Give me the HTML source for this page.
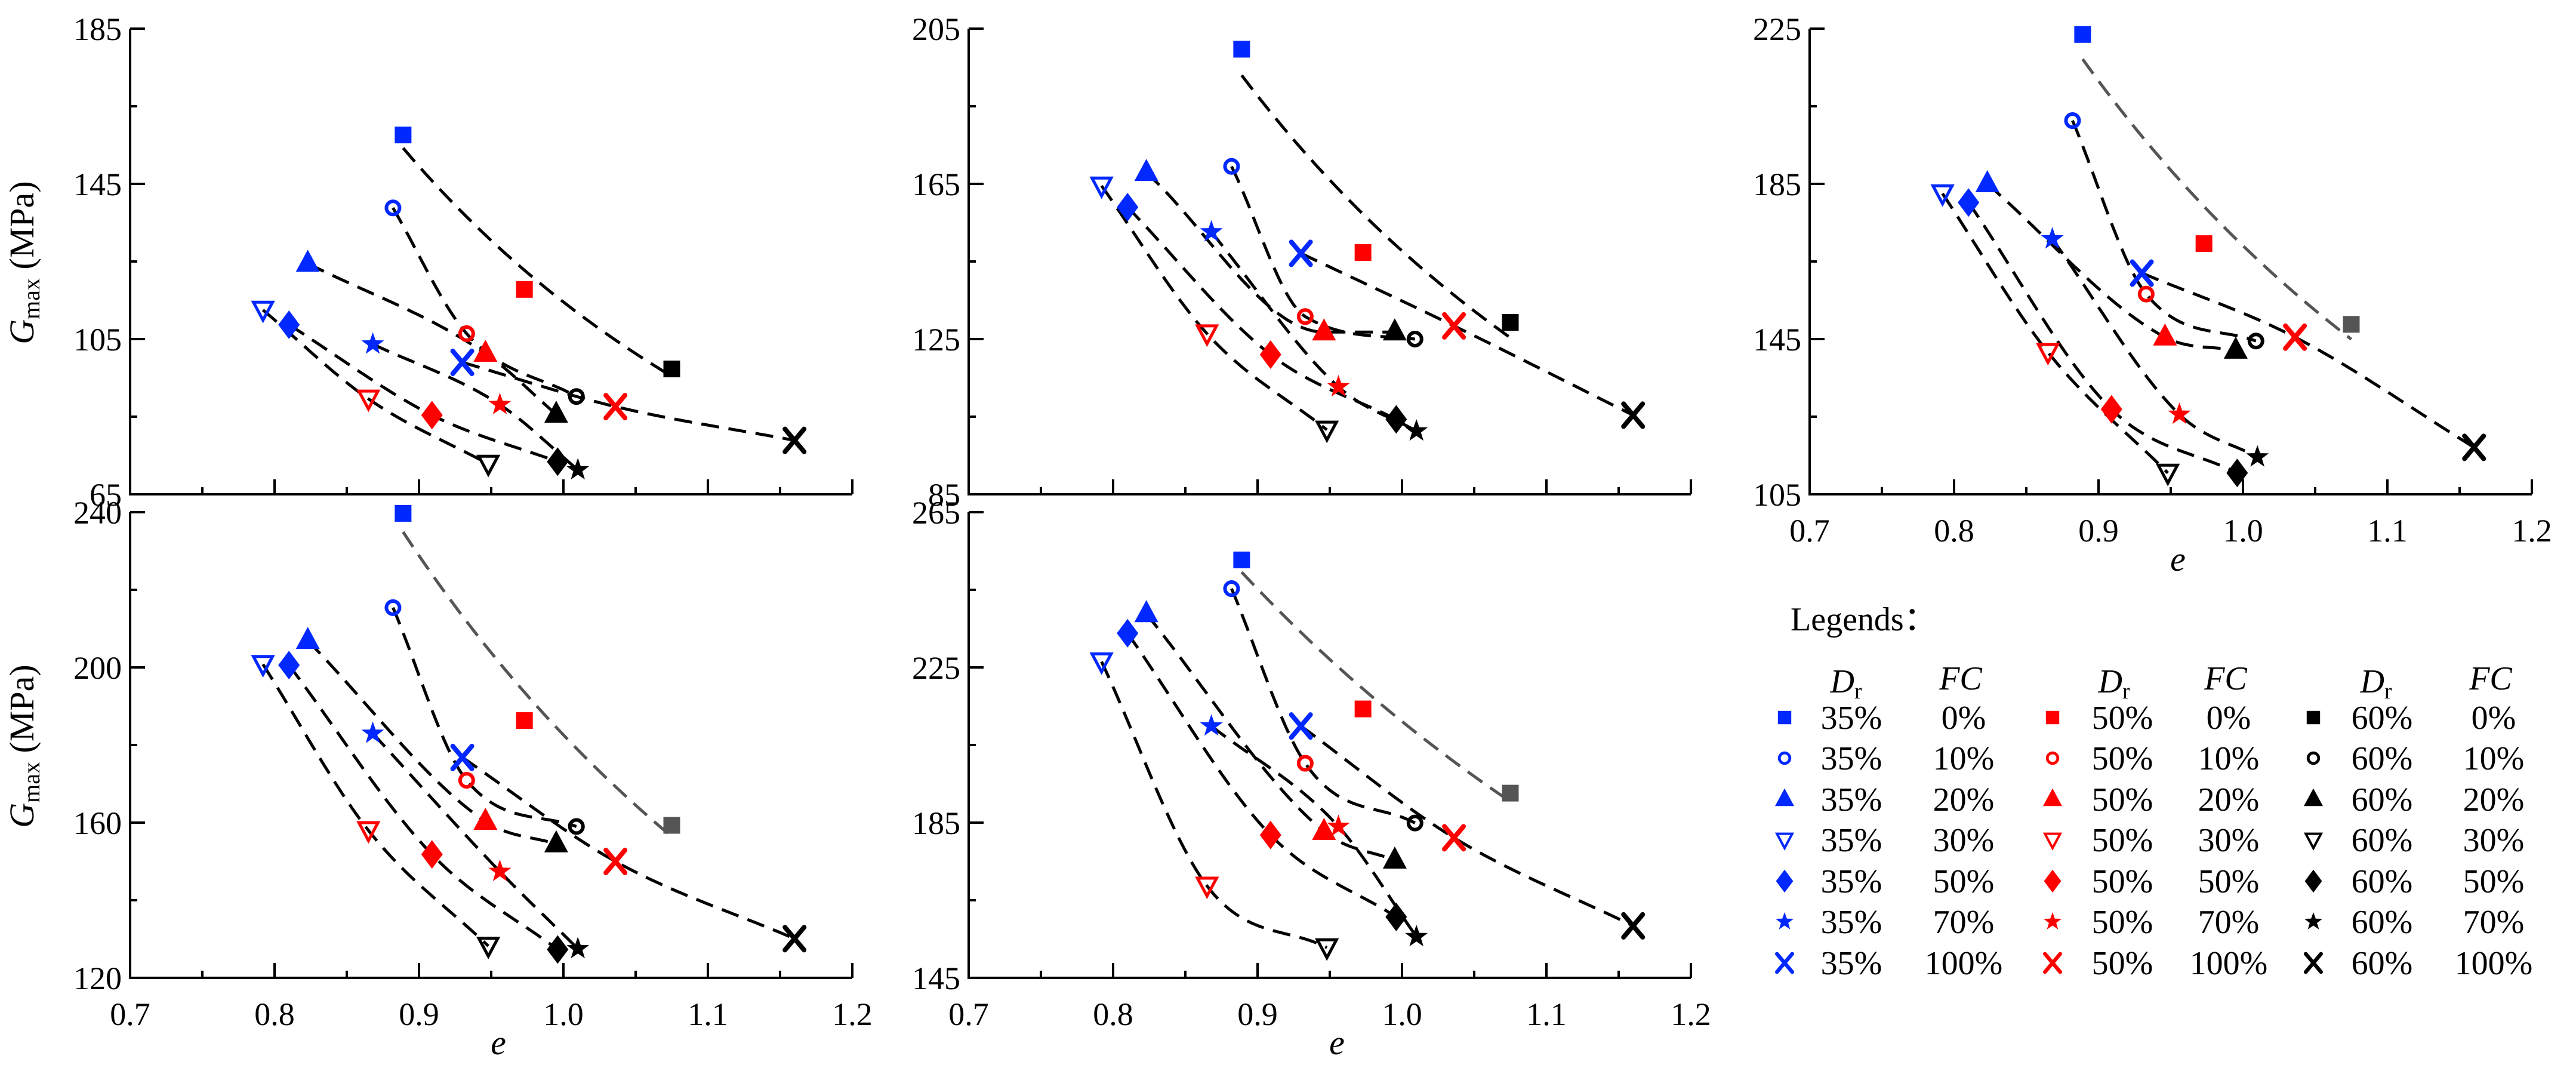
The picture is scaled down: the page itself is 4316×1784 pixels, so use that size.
<!DOCTYPE html>
<html><head><meta charset="utf-8"><title>Gmax vs e</title>
<style>html,body{margin:0;padding:0;background:#fff}svg{display:block;font-family:"Liberation Serif","DejaVu Serif",serif}svg text{font-family:"Liberation Serif","DejaVu Serif",serif;fill:#000}</style>
</head><body>
<svg id="chart" xmlns="http://www.w3.org/2000/svg" width="4316" height="1784" viewBox="0 0 4316 1784"></svg>
<script>
// Void ratio e per specimen, FC order: 0,10,20,30,50,70,100 (%)
const fcLabels = ["0%","10%","20%","30%","50%","70%","100%"];
const drLabels = ["35%","50%","60%"];
const e35 = [0.889,0.882,0.823,0.792,0.810,0.868,0.930];
const e50 = [0.973,0.933,0.946,0.865,0.909,0.956,1.036];
const e60 = [1.075,1.009,0.995,0.948,0.996,1.010,1.160];
// Panel A (top-left)
const gA35 = [157.6,138.8,124.5,112.5,108.7,103.7,99.0];
const gA50 = [117.8,106.4,101.3,89.6,85.4,88.1,87.6];
const gA60 = [97.3,90.2,85.6,72.8,73.4,71.3,78.9];
// Panel C (top-middle)
const gC35 = [199.7,169.5,167.9,164.5,159.0,152.6,147.1];
const gC50 = [147.3,130.8,126.8,126.4,121.0,112.7,128.4];
const gC60 = [129.3,125.0,126.8,101.6,104.3,101.3,105.4];
// Panel E (top-right)
const gE35 = [223.5,201.3,185.0,182.5,180.2,170.8,162.0];
const gE50 = [169.6,156.6,145.5,141.6,126.9,125.6,145.5];
const gE60 = [148.8,144.5,142.1,110.5,110.5,114.6,117.1];
// Panel B (bottom-left)
const gB35 = [239.7,215.4,206.9,200.8,200.6,183.0,176.8];
const gB50 = [186.3,170.9,160.3,158.0,151.8,147.4,150.0];
const gB60 = [159.3,159.0,154.5,128.2,127.3,127.5,130.1];
// Panel D (bottom-middle)
const gD35 = [252.7,245.3,238.8,226.5,233.8,209.9,209.9];
const gD50 = [214.3,200.3,182.7,168.7,181.8,184.0,181.1];
const gD60 = [192.6,184.9,175.3,152.8,160.7,155.6,158.4];
const xTicks = [0.7,0.8,0.9,1.0,1.1,1.2];

const NS = "http://www.w3.org/2000/svg";
const svg = document.getElementById("chart");
const FONT = "Liberation Serif, DejaVu Serif, serif";
const BLUE = "#0028ff", RED = "#ff0000", BLACK = "#000000", GREY = "#555555";
const shapes = ["square","circle","tri","dtri","diamond","star","cross"];

function el(tag, attrs, parent) {
  const n = document.createElementNS(NS, tag);
  for (const k in attrs) n.setAttribute(k, attrs[k]);
  if (tag === "text") n.setAttribute("font-family", FONT);
  (parent || svg).appendChild(n);
  return n;
}

function marker(g, shape, cx, cy, color, s) {
  let m;
  if (shape === "square") {
    m = el("rect", {x: cx-14*s, y: cy-14*s, width: 28*s, height: 28*s, fill: color}, g);
  } else if (shape === "circle") {
    m = el("circle", {cx: cx, cy: cy, r: 11*s, fill: "none", stroke: color, "stroke-width": 6*s}, g);
  } else if (shape === "tri") {
    m = el("polygon", {points: `${cx},${cy-23*s} ${cx-20*s},${cy+14*s} ${cx+20*s},${cy+14*s}`, fill: color}, g);
  } else if (shape === "dtri") {
    m = el("polygon", {points: `${cx-16*s},${cy-13*s} ${cx+16*s},${cy-13*s} ${cx},${cy+17*s}`, fill: "none", stroke: color, "stroke-width": 5*s}, g);
  } else if (shape === "diamond") {
    m = el("polygon", {points: `${cx},${cy-24*s} ${cx+18*s},${cy} ${cx},${cy+24*s} ${cx-18*s},${cy}`, fill: color}, g);
  } else if (shape === "star") {
    let pts = [];
    for (let i = 0; i < 10; i++) {
      const r = (i % 2 === 0 ? 20 : 8) * s;
      const a = -Math.PI/2 + i*Math.PI/5;
      pts.push((cx + r*Math.cos(a)).toFixed(1) + "," + (cy + r*Math.sin(a)).toFixed(1));
    }
    m = el("polygon", {points: pts.join(" "), fill: color}, g);
  } else {
    m = el("path", {d: `M${cx-16*s},${cy-19*s}L${cx+16*s},${cy+19*s}M${cx+16*s},${cy-19*s}L${cx-16*s},${cy+19*s}`, stroke: color, "stroke-width": 8*s, "stroke-linecap": "round", fill: "none"}, g);
  }
  return m;
}

const panels = [
  {id: "a", left: 218, top: 48, ymin: 65, ymax: 185, g: [gA35, gA50, gA60], grey: false, xlab: false, title: true},
  {id: "c", left: 1623, top: 48, ymin: 85, ymax: 205, g: [gC35, gC50, gC60], grey: false, xlab: false, title: false},
  {id: "e", left: 3032, top: 48, ymin: 105, ymax: 225, g: [gE35, gE50, gE60], grey: true, xlab: true, title: false},
  {id: "b", left: 218, top: 858, ymin: 120, ymax: 240, g: [gB35, gB50, gB60], grey: true, xlab: true, title: true},
  {id: "d", left: 1623, top: 858, ymin: 145, ymax: 265, g: [gD35, gD50, gD60], grey: true, xlab: true, title: false}
];
const W = 1210, H = 780;
const eArr = [e35, e50, e60];

function powerFit(xs, ys) {
  const lx = xs.map(Math.log), ly = ys.map(Math.log);
  const mx = lx.reduce((s,v)=>s+v,0)/3, my = ly.reduce((s,v)=>s+v,0)/3;
  let sxy = 0, sxx = 0;
  for (let i = 0; i < 3; i++) { sxy += (lx[i]-mx)*(ly[i]-my); sxx += (lx[i]-mx)**2; }
  const b = sxy/sxx, a = Math.exp(my - b*mx);
  return e => a*Math.pow(e,b);
}
// monotone cubic (Fritsch-Carlson) through points sorted by e
function monotone(xs0, ys0) {
  const idx = [0,1,2].sort((i,j)=>xs0[i]-xs0[j]);
  const xs = idx.map(i=>xs0[i]), ys = idx.map(i=>ys0[i]);
  const n = xs.length, d = [], m = [];
  for (let i = 0; i < n-1; i++) d.push((ys[i+1]-ys[i])/(xs[i+1]-xs[i]));
  m[0] = d[0]; m[n-1] = d[n-2];
  for (let i = 1; i < n-1; i++) m[i] = (d[i-1]*d[i] <= 0) ? 0 : (d[i-1]+d[i])/2;
  for (let i = 0; i < n-1; i++) {
    if (d[i] === 0) { m[i] = 0; m[i+1] = 0; continue; }
    const a = m[i]/d[i], b = m[i+1]/d[i], s = a*a + b*b;
    if (s > 9) { const t = 3/Math.sqrt(s); m[i] = t*a*d[i]; m[i+1] = t*b*d[i]; }
  }
  return e => {
    let k = e <= xs[1] ? 0 : 1;
    const h = xs[k+1]-xs[k], t = (e - xs[k])/h;
    const h00 = 2*t*t*t - 3*t*t + 1, h10 = t*t*t - 2*t*t + t, h01 = -2*t*t*t + 3*t*t, h11 = t*t*t - t*t;
    return h00*ys[k] + h10*h*m[k] + h01*ys[k+1] + h11*h*m[k+1];
  };
}

panels.forEach(p => {
  const g = el("g", {});
  
  
  const X = v => p.left + (v - 0.7) / 0.5 * W;
  const Y = v => p.top + H - (v - p.ymin) / (p.ymax - p.ymin) * H;
  const bottom = p.top + H;
  const ax = el("path", {d: `M${p.left},${p.top}L${p.left},${bottom}L${p.left+W},${bottom}`, stroke: "#000", "stroke-width": 4, fill: "none"}, g);
  
  
  for (let k = 0; k <= 6; k++) {
    const v = p.ymin + k*20, y = Y(v), major = k % 2 === 0;
    el("line", {x1: p.left, y1: y, x2: p.left + (major ? 25 : 12), y2: y, stroke: "#000", "stroke-width": 4}, g);
    if (major) {
      const t = el("text", {x: p.left - 14, y: y + 19, "text-anchor": "end", "font-size": 54}, g);
      t.textContent = String(v);
      
      
    }
  }
  for (let k = 1; k <= 10; k++) {
    const v = 0.7 + k*0.05, x = X(v), major = k % 2 === 0;
    el("line", {x1: x, y1: bottom, x2: x, y2: bottom - (major ? 25 : 12), stroke: "#000", "stroke-width": 4}, g);
  }
  if (p.xlab) {
    xTicks.forEach(v => {
      const t = el("text", {x: X(v), y: bottom + 79, "text-anchor": "middle", "font-size": 54}, g);
      t.textContent = v.toFixed(1);
      
      
    });
    const xt = el("text", {x: p.left + W/2 + 12, y: bottom + 128, "text-anchor": "middle", "font-size": 58, "font-style": "italic"}, g);
    xt.textContent = "e";
    
    
  }
  if (p.title) {
    const cy = p.top + 392;
    const t = el("text", {x: 0, y: 0, "text-anchor": "middle", "font-size": 58, transform: `translate(56,${cy}) rotate(-90)`}, g);
    
    
    const a = el("tspan", {"font-style": "italic"}, t); a.textContent = "G";
    const b = el("tspan", {"font-size": 40, dy: 10}, t); b.textContent = "max";
    const c = el("tspan", {dy: -10}, t); c.textContent = " (MPa)";
  }
  for (let f = 0; f < 7; f++) {
    const xs = [e35[f], e50[f], e60[f]], ys = [p.g[0][f], p.g[1][f], p.g[2][f]];
    const fn = (f === 0) ? powerFit(xs, ys) : monotone(xs, ys);
    const e0 = Math.min(...xs), e1 = Math.max(...xs);
    let d = "";
    for (let i = 0; i <= 60; i++) {
      const e = e0 + (e1-e0)*i/60;
      d += (i ? "L" : "M") + X(e).toFixed(1) + "," + Y(fn(e)).toFixed(1);
    }
    const col = (f === 0 && p.grey) ? GREY : "#000";
    const path = el("path", {d: d, stroke: col, "stroke-width": 5, fill: "none", "stroke-dasharray": "30 16"}, g);
    
    
  }
  const colors = [BLUE, RED, BLACK];
  for (let di = 0; di < 3; di++) {
    for (let f = 0; f < 7; f++) {
      let col = colors[di];
      if (di === 2 && f === 0 && p.grey) col = GREY;
      const m = marker(g, shapes[f], X(eArr[di][f]), Y(p.g[di][f]), col, 1);
      
      
    }
  }
});

const lg = el("g", {});


const lt = el("text", {x: 3000, y: 1056, "font-size": 56}, lg);
lt.textContent = "Legends：";


const markX = [2990, 3439, 3876], drX = [3102, 3556, 3991], fcX = [3290, 3734, 4178], hdrDX = [3093, 3542, 3981], hdrFX = [3285, 3729, 4173];
const rowsY = [1202, 1270, 1339, 1407, 1476, 1544, 1613];
const lcolors = [BLUE, RED, BLACK];
for (let c = 0; c < 3; c++) {
  const h1 = el("text", {x: hdrDX[c], y: 1160, "text-anchor": "middle", "font-size": 56}, lg);
  
  
  const d1 = el("tspan", {"font-style": "italic"}, h1); d1.textContent = "D";
  const d2 = el("tspan", {"font-size": 38, dy: 10}, h1); d2.textContent = "r";
  const h2 = el("text", {x: hdrFX[c], y: 1155, "text-anchor": "middle", "font-size": 56, "font-style": "italic"}, lg);
  h2.textContent = "FC";
  
  
  for (let f = 0; f < 7; f++) {
    const y = rowsY[f];
    const m = marker(lg, shapes[f], markX[c], y, lcolors[c], 0.8);
    
    
    const t1 = el("text", {x: drX[c], y: y + 19, "text-anchor": "middle", "font-size": 56}, lg);
    t1.textContent = drLabels[c];
    
    
    const t2 = el("text", {x: fcX[c], y: y + 19, "text-anchor": "middle", "font-size": 56}, lg);
    t2.textContent = fcLabels[f];
    
    
  }
}
</script>
</body></html>
